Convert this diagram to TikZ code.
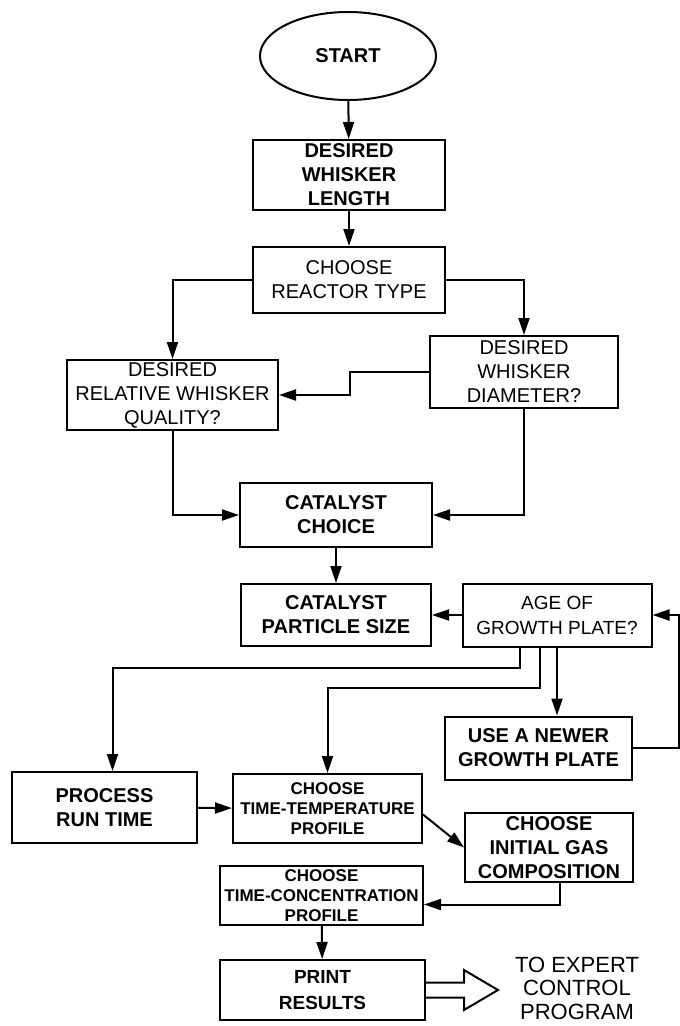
\documentclass[tikz,border=0pt]{standalone}
\usepackage{fontspec}
\setmainfont{Liberation Sans}
\usetikzlibrary{positioning, arrows.meta, calc, shapes.geometric}

\begin{document}
\begin{tikzpicture}[x=1pt, y=-1pt, line width=2pt,
    box/.style={draw, rectangle, inner sep=0pt, align=center, font=\fontsize{20}{24}\selectfont},
    bbox/.style={box, font=\fontsize{20}{24}\selectfont\bfseries},
    arr/.style={-{Triangle[length=17pt, width=11pt]}}]
  \useasboundingbox (0,0) rectangle (680,1026);
  \node[draw, ellipse, inner sep=0pt, minimum width=176pt, minimum height=88pt, font=\fontsize{20}{24}\selectfont\bfseries] (start) at (348,56) {START};
  \node[bbox, minimum width=192pt, minimum height=70pt] (len) at (349,175) {DESIRED\\WHISKER\\LENGTH};
  \node[box, minimum width=192pt, minimum height=66pt] (reac) at (349,280) {CHOOSE\\REACTOR TYPE};
  \node[box, minimum width=211pt, minimum height=70pt] (qual) at (172.5,395) {DESIRED\\RELATIVE WHISKER\\QUALITY?};
  \node[box, minimum width=188pt, minimum height=72pt] (diam) at (524,372) {DESIRED\\WHISKER\\DIAMETER?};
  \node[bbox, minimum width=192pt, minimum height=64pt] (cat) at (336,515) {CATALYST\\CHOICE};
  \node[bbox, minimum width=190pt, minimum height=62pt] (size) at (336,615) {CATALYST\\PARTICLE SIZE};
  \node[box, minimum width=189pt, minimum height=63pt, font=\fontsize{19}{25}\selectfont] (age) at (557,615) {AGE OF\\GROWTH PLATE?};
  \node[bbox, minimum width=187pt, minimum height=63pt] (newer) at (538.5,748) {USE A NEWER\\GROWTH PLATE};
  \node[bbox, minimum width=185pt, minimum height=71pt] (run) at (104.5,807.5) {PROCESS\\RUN TIME};
  \node[bbox, minimum width=189pt, minimum height=69pt, font=\fontsize{17}{20}\selectfont\bfseries] (ttp) at (327.5,808.5) {CHOOSE\\TIME-TEMPERATURE\\PROFILE};
  \node[bbox, minimum width=168pt, minimum height=69pt] (gas) at (549,847.5) {CHOOSE\\INITIAL GAS\\COMPOSITION};
  \node[bbox, minimum width=203pt, minimum height=59pt, font=\fontsize{17}{20}\selectfont\bfseries] (tcp) at (321.5,895.5) {CHOOSE\\TIME-CONCENTRATION\\PROFILE};
  \node[bbox, minimum width=205pt, minimum height=60pt, font=\fontsize{19}{26}\selectfont\bfseries] (print) at (322.5,990) {PRINT\\RESULTS};
  \node[align=center, inner sep=0pt, font=\fontsize{22}{23.5}\selectfont] (out) at (577,988) {TO EXPERT\\CONTROL\\PROGRAM};
  \draw[arr] (start) -- (len);
  \draw[arr] (len) -- (reac);
  \draw[arr] (reac.west) -| (qual.north);
  \draw[arr] (reac.east) -| (diam.north);
  \draw[arr] (diam.west) -- ++(-79,0) |- (qual.east);
  \draw[arr] (qual.south) |- (cat.west);
  \draw[arr] (diam.south) |- (cat.east);
  \draw[arr] (cat) -- (size);
  \draw[arr] (age) -- (size);
  \draw[arr] (newer.east) -- ++(46,0) |- (age.east);
  \draw[arr] ([xshift=-37pt]age.south) -- ++(0,20) -| ([xshift=8pt]run.north);
  \draw[arr] ([xshift=-17pt]age.south) -- ++(0,40) -| (ttp.north);
  \draw[arr] (age.south) -- (age.south |- newer.north);
  \draw[arr] (run) -- (ttp);
  \draw[arr] ([yshift=-6pt]ttp.east) -- (gas.west);
  \draw[arr] ([xshift=11pt]gas.south) |- ([yshift=-9pt]tcp.east);
  \draw[arr] (tcp) -- (print);
  \draw (print.east) ++(0,-7.5) -- ++(38,0) -- ++(0,-12.5) -- ++(34,20) -- ++(-34,20) -- ++(0,-12.5) -- ++(-38,0);
\end{tikzpicture}
\end{document}
